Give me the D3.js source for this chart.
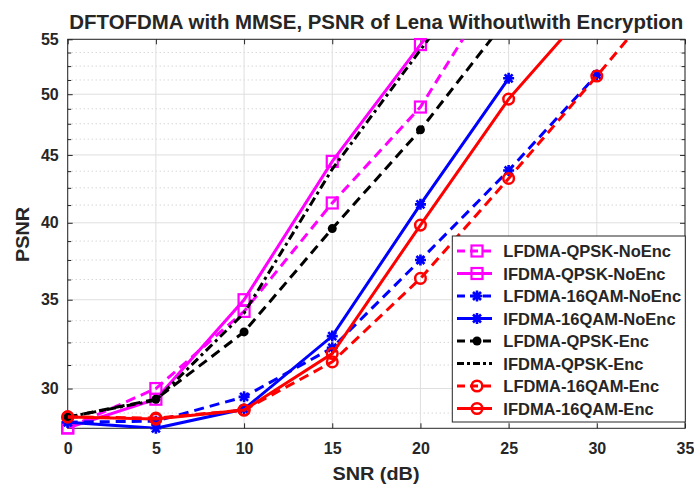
<!DOCTYPE html>
<html>
<head>
<meta charset="utf-8">
<script src="https://cdn.jsdelivr.net/npm/d3@7"></script>
<style>
  body { margin: 0; background: #fff; }
  text { font-family: "Liberation Sans", Arial, sans-serif; font-weight: bold; fill: #262626; }
</style>
</head>
<body>
<figure id="chart" style="margin:0"></figure>
<script>
// SNR points (dB)
const snr = [0, 5, 10, 15, 20, 25, 30, 35];

// PSNR values (null = no point)
const lfdmaQpskNoEnc = [28.02, 30.0, 34.3, 41.4, 48.9, 62.5, null, null];
const ifdmaQpskNoEnc = [28.02, 29.45, 35.0, 44.5, 54.5, 66.0, null, null];
const lfdma16qamNoEnc = [28.3, 28.35, 29.57, 32.2, 37.5, 43.8, 51.7, null];
const ifdma16qamNoEnc = [28.3, 28.0, 28.95, 32.86, 41.3, 51.4, null, null];
const lfdmaQpskEnc = [28.55, 29.45, 33.1, 39.6, 47.0, 57.2, null, null];
const ifdmaQpskEnc = [28.55, 29.4, 34.2, 43.9, 54.0, 66.0, null, null];
const lfdma16qamEnc = [28.56, 28.5, 28.9, 31.42, 36.32, 43.2, 51.6, 62.0];
const ifdma16qamEnc = [28.56, 28.45, 28.9, 31.88, 39.84, 49.58, 59.0, null];

const seriesNames = [
  "LFDMA-QPSK-NoEnc", "IFDMA-QPSK-NoEnc", "LFDMA-16QAM-NoEnc", "IFDMA-16QAM-NoEnc",
  "LFDMA-QPSK-Enc", "IFDMA-QPSK-Enc", "LFDMA-16QAM-Enc", "IFDMA-16QAM-Enc"
];
const seriesValues = [
  lfdmaQpskNoEnc, ifdmaQpskNoEnc, lfdma16qamNoEnc, ifdma16qamNoEnc,
  lfdmaQpskEnc, ifdmaQpskEnc, lfdma16qamEnc, ifdma16qamEnc
];

const xTicks = [0, 5, 10, 15, 20, 25, 30, 35];
const yTicks = [30, 35, 40, 45, 50, 55];
const yMinorTicks = [28.75, 31.25, 32.5, 33.75, 36.25, 37.5, 38.75, 41.25, 42.5, 43.75,
  46.25, 47.5, 48.75, 51.25, 52.5, 53.75];

// line styles, same order as the series
const styles = [
  { color: "#ff00ff", dash: "10,6", marker: "square" },
  { color: "#ff00ff", dash: null, marker: "square" },
  { color: "#0000ff", dash: "10,6", marker: "asterisk" },
  { color: "#0000ff", dash: null, marker: "asterisk" },
  { color: "#000000", dash: "10,6", marker: "dot" },
  { color: "#000000", dash: "9,4,3,4", marker: null },
  { color: "#ff0000", dash: "10,6", marker: "circle" },
  { color: "#ff0000", dash: null, marker: "circle" }
];

const W = 694, H = 485;
const mLeft = 67.7, mRight = 685, mTop = 39.3, mBottom = 428.3;

const svg = d3.select("#chart").append("svg")
  .attr("width", W).attr("height", H)
  .style("display", "block");

const x = d3.scaleLinear().domain([0, 35]).range([mLeft, mRight]);
const y = d3.scaleLog().domain([28, 55]).range([mBottom, mTop]);

// clip for the lines
svg.append("clipPath").attr("id", "plotclip")
  .append("rect")
  .attr("x", mLeft).attr("y", mTop)
  .attr("width", mRight - mLeft).attr("height", mBottom - mTop);

// grid
const grid = svg.append("g");
grid.selectAll(".ymin").data(yMinorTicks).enter().append("line")
  .attr("x1", mLeft).attr("x2", mRight)
  .attr("y1", d => y(d)).attr("y2", d => y(d))
  .attr("stroke", "#b8b8b8").attr("stroke-width", 0.8)
  .attr("stroke-dasharray", "1,3");
grid.selectAll(".ymaj").data(yTicks).enter().append("line")
  .attr("x1", mLeft).attr("x2", mRight)
  .attr("y1", d => y(d)).attr("y2", d => y(d))
  .attr("stroke", "#dfdfdf").attr("stroke-width", 1);
grid.selectAll(".xmaj").data(xTicks).enter().append("line")
  .attr("x1", d => x(d)).attr("x2", d => x(d))
  .attr("y1", mTop).attr("y2", mBottom)
  .attr("stroke", "#dfdfdf").attr("stroke-width", 1);

// axes, ticks inward like matlab
const fmt = d3.format("d");
const xAxis = svg.append("g")
  .attr("transform", "translate(0," + mBottom + ")")
  .call(d3.axisBottom(x).tickValues(xTicks).tickFormat(fmt).tickSizeInner(-5).tickSizeOuter(0).tickPadding(14));
const xTop = svg.append("g")
  .attr("transform", "translate(0," + mTop + ")")
  .call(d3.axisTop(x).tickValues(xTicks).tickFormat("").tickSizeInner(-5).tickSizeOuter(0));
const yAxis = svg.append("g")
  .attr("transform", "translate(" + mLeft + ",0)")
  .call(d3.axisLeft(y).tickValues(yTicks).tickFormat(fmt).tickSizeInner(-5).tickSizeOuter(0).tickPadding(9));
const yRight = svg.append("g")
  .attr("transform", "translate(" + mRight + ",0)")
  .call(d3.axisRight(y).tickValues(yTicks).tickFormat("").tickSizeInner(-5).tickSizeOuter(0));
const yMinL = svg.append("g")
  .attr("transform", "translate(" + mLeft + ",0)")
  .call(d3.axisLeft(y).tickValues(yMinorTicks).tickFormat("").tickSizeInner(-3.5).tickSizeOuter(0));
const yMinR = svg.append("g")
  .attr("transform", "translate(" + mRight + ",0)")
  .call(d3.axisRight(y).tickValues(yMinorTicks).tickFormat("").tickSizeInner(-3.5).tickSizeOuter(0));

[xAxis, xTop, yAxis, yRight, yMinL, yMinR].forEach(a => {
  a.select(".domain").remove();
  a.selectAll("line").attr("stroke", "#262626");
  a.selectAll("text").style("font-size", "16px").style("font-family", "'Liberation Sans', Arial, sans-serif")
    .style("font-weight", "bold").attr("fill", "#262626");
});

// box
svg.append("rect")
  .attr("x", mLeft).attr("y", mTop)
  .attr("width", mRight - mLeft).attr("height", mBottom - mTop)
  .attr("fill", "none").attr("stroke", "#262626").attr("stroke-width", 1);

// markers
function drawMarker(g, type, cx, cy, color) {
  if (type === "square") {
    g.append("rect").attr("x", cx - 5.5).attr("y", cy - 5.5)
      .attr("width", 11).attr("height", 11)
      .attr("fill", "none").attr("stroke", color).attr("stroke-width", 2.2);
  } else if (type === "asterisk") {
    g.append("path")
      .attr("d", "M-5.5,0H5.5M0,-5.5V5.5M-4,-4L4,4M-4,4L4,-4")
      .attr("transform", "translate(" + cx + "," + cy + ")")
      .attr("stroke", color).attr("stroke-width", 2.6).attr("fill", "none");
  } else if (type === "dot") {
    g.append("circle").attr("cx", cx).attr("cy", cy).attr("r", 4.5).attr("fill", color);
  } else if (type === "circle") {
    g.append("circle").attr("cx", cx).attr("cy", cy).attr("r", 5.3)
      .attr("fill", "none").attr("stroke", color).attr("stroke-width", 2.5);
  }
}

// lines and markers
const line = d3.line()
  .defined(d => d.v !== null)
  .x(d => x(d.snr))
  .y(d => y(d.v));

const [yLo, yHi] = y.domain();
seriesValues.forEach((vals, i) => {
  const st = styles[i];
  const pts = snr.map((s, j) => ({ snr: s, v: vals[j] }));
  const g = svg.append("g");
  g.append("path")
    .datum(pts)
    .attr("clip-path", "url(#plotclip)")
    .attr("d", line)
    .attr("fill", "none")
    .attr("stroke", st.color)
    .attr("stroke-width", 3)
    .attr("stroke-dasharray", st.dash);
  if (st.marker) {
    pts.filter(d => d.v !== null && d.v >= yLo && d.v <= yHi)
      .forEach(d => drawMarker(g, st.marker, x(d.snr), y(d.v), st.color));
  }
});

// legend
const lg = svg.append("g");
lg.append("rect")
  .attr("x", 452.3).attr("y", 236)
  .attr("width", 233).attr("height", 186)
  .attr("fill", "#fff").attr("stroke", "#262626").attr("stroke-width", 1);
seriesNames.forEach((name, i) => {
  const st = styles[i];
  const ly = 251 + i * 22.5;
  lg.append("line")
    .attr("x1", 457).attr("x2", 492)
    .attr("y1", ly).attr("y2", ly)
    .attr("stroke", st.color).attr("stroke-width", 3)
    .attr("stroke-dasharray", st.dash ? (st.marker ? "8,5" : "7,3,3,3") : null);
  if (st.marker) drawMarker(lg, st.marker, 477, ly, st.color);
  lg.append("text")
    .attr("x", 503.3).attr("y", ly + 6)
    .style("font-size", "16.5px")
    .attr("fill", "#000")
    .text(name);
});

// title and axis labels
svg.append("text")
  .attr("x", (mLeft + mRight) / 2).attr("y", 29.3)
  .attr("text-anchor", "middle")
  .style("font-size", "19.5px")
  .attr("fill", "#000")
  .attr("textLength", 614).attr("lengthAdjust", "spacingAndGlyphs")
  .text("DFTOFDMA with MMSE, PSNR of Lena Without\\with Encryption");

svg.append("text")
  .attr("x", 376).attr("y", 480)
  .attr("text-anchor", "middle")
  .style("font-size", "18px")
  .attr("textLength", 87).attr("lengthAdjust", "spacingAndGlyphs")
  .text("SNR (dB)");

svg.append("text")
  .attr("transform", "translate(28.5,234.5) rotate(-90)")
  .attr("text-anchor", "middle")
  .style("font-size", "18px")
  .attr("textLength", 55).attr("lengthAdjust", "spacingAndGlyphs")
  .text("PSNR");
</script>
</body>
</html>
